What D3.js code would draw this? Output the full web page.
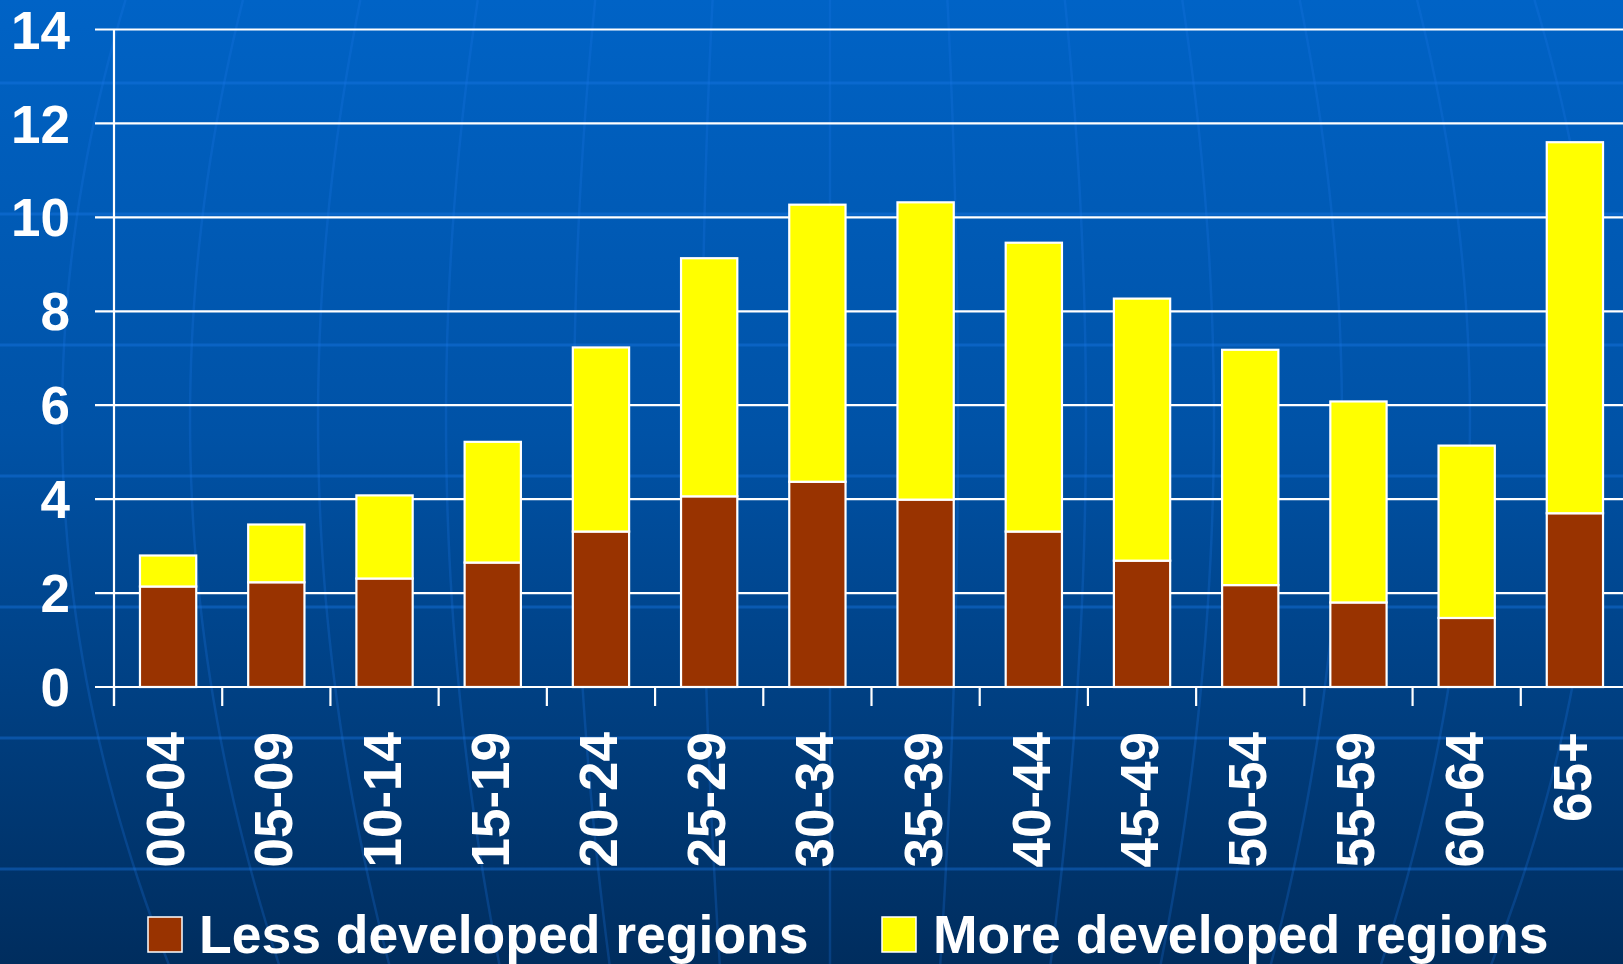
<!DOCTYPE html>
<html>
<head>
<meta charset="utf-8">
<script src="https://cdn.jsdelivr.net/npm/d3@7"></script>
<style>
  html, body { margin: 0; padding: 0; background: #003166; overflow: hidden; }
  text { font-family: "Liberation Sans", Arial, sans-serif; font-weight: bold; fill: #ffffff; }
</style>
</head>
<body>
<div id="chart"></div>
<script>
// age groups
let ageGroups = ["00-04", "05-09", "10-14", "15-19", "20-24", "25-29", "30-34",
                 "35-39", "40-44", "45-49", "50-54", "55-59", "60-64", "65+"]

// less developed regions (bottom, brown)
let lessDeveloped = [2.14, 2.23, 2.31, 2.65, 3.31, 4.06, 4.37, 3.99, 3.31, 2.69, 2.17, 1.80, 1.47, 3.70]

// more developed regions (top, yellow)
let moreDeveloped = [0.66, 1.23, 1.77, 2.57, 3.92, 5.07, 5.90, 6.33, 6.15, 5.58, 5.01, 4.28, 3.67, 7.90]

let yTicks = [0, 2, 4, 6, 8, 10, 12, 14]

let seriesNames = ["Less developed regions", "More developed regions"]
let seriesColors = ["#993300", "#ffff00"]

let width = 1623
let height = 964

let svg = d3.select("#chart")
    .append("svg")
    .attr("width", width)
    .attr("height", height)

// background
let defs = svg.append("defs")
let grad = defs.append("linearGradient")
    .attr("id", "bg")
    .attr("x1", 0).attr("y1", 0).attr("x2", 0).attr("y2", 1)
grad.append("stop").attr("offset", "0%").attr("stop-color", "#0063c6")
grad.append("stop").attr("offset", "45%").attr("stop-color", "#0052a6")
grad.append("stop").attr("offset", "100%").attr("stop-color", "#002d5e")

svg.append("rect")
    .attr("width", width)
    .attr("height", height)
    .attr("fill", "url(#bg)")

// faint globe lines in the backdrop
let deco = svg.append("g").attr("class", "deco")
d3.range(83, height, 131).forEach(function(y){
    deco.append("line")
        .attr("x1", 0).attr("x2", width)
        .attr("y1", y).attr("y2", y)
        .attr("stroke", "#1a78e6")
        .attr("stroke-opacity", 0.4)
        .attr("stroke-width", 3)
})
d3.range(-6, 7).forEach(function(i){
    let xm = 830 + 128 * i
    let k = -0.00006 * i
    let pts = d3.range(0, height + 20, 20).map(function(y){
        return [xm + k * (y - 420) * (y - 420), y]
    })
    deco.append("path")
        .attr("d", d3.line().curve(d3.curveBasis)(pts))
        .attr("fill", "none")
        .attr("stroke", "#1a78e6")
        .attr("stroke-opacity", 0.25)
        .attr("stroke-width", 2.5)
})

// scales
let xScale = d3.scaleBand()
    .domain(ageGroups)
    .range([114, 1629])
    .paddingInner(0.48)
    .paddingOuter(0.24)

let yScale = d3.scaleLinear()
    .domain([0, 14])
    .range([687, 29.5])

// gridlines
svg.append("g")
    .selectAll("line")
    .data(yTicks)
    .enter()
    .append("line")
    .attr("x1", 95)
    .attr("x2", width)
    .attr("y1", d => yScale(d))
    .attr("y2", d => yScale(d))
    .attr("stroke", "#ffffff")
    .attr("stroke-width", 2.2)

// y axis line
svg.append("line")
    .attr("x1", 114).attr("x2", 114)
    .attr("y1", yScale(14)).attr("y2", 706)
    .attr("stroke", "#ffffff")
    .attr("stroke-width", 2.2)

// x tick marks at band boundaries
let step = xScale.step()
svg.append("g")
    .selectAll("line")
    .data(d3.range(0, ageGroups.length + 1))
    .enter()
    .append("line")
    .attr("x1", d => 114 + d * step)
    .attr("x2", d => 114 + d * step)
    .attr("y1", yScale(0))
    .attr("y2", 706)
    .attr("stroke", "#ffffff")
    .attr("stroke-width", 2.2)

// y labels
svg.append("g")
    .selectAll("text")
    .data(yTicks)
    .enter()
    .append("text")
    .attr("x", 70)
    .attr("y", d => yScale(d))
    .attr("dy", "0.36em")
    .attr("text-anchor", "end")
    .attr("font-size", 53)
    .text(d => d)

// stacked bars
let table = ageGroups.map(function(g, i){
    return { group: g, less: lessDeveloped[i], more: moreDeveloped[i] }
})
let stacked = d3.stack().keys(["less", "more"])(table)

svg.append("g")
    .selectAll("g")
    .data(stacked)
    .enter()
    .append("g")
    .attr("fill", (d, i) => seriesColors[i])
    .selectAll("rect")
    .data(d => d)
    .enter()
    .append("rect")
    .attr("x", d => xScale(d.data.group))
    .attr("width", xScale.bandwidth())
    .attr("y", d => yScale(d[1]))
    .attr("height", d => yScale(d[0]) - yScale(d[1]))
    .attr("stroke", "#ffffff")
    .attr("stroke-width", 2.2)

// x labels
svg.append("g")
    .selectAll("text")
    .data(ageGroups)
    .enter()
    .append("text")
    .attr("transform", d => `translate(${xScale(d) + xScale.bandwidth() / 2 - 2}, 732) rotate(-90)`)
    .attr("text-anchor", "end")
    .attr("dy", "0.34em")
    .attr("font-size", 53)
    .text(d => d)

// legend
let legendX = [148, 882]
let legend = svg.append("g")
    .selectAll("g")
    .data(seriesNames)
    .enter()
    .append("g")
    .attr("transform", (d, i) => `translate(${legendX[i]}, 917)`)

legend.append("rect")
    .attr("width", 34)
    .attr("height", 35)
    .attr("fill", (d, i) => seriesColors[i])
    .attr("stroke", "#ffffff")
    .attr("stroke-width", 1.5)

legend.append("text")
    .attr("x", 51)
    .attr("y", 36)
    .attr("font-size", 53.5)
    .text(d => d)
</script>
</body>
</html>
